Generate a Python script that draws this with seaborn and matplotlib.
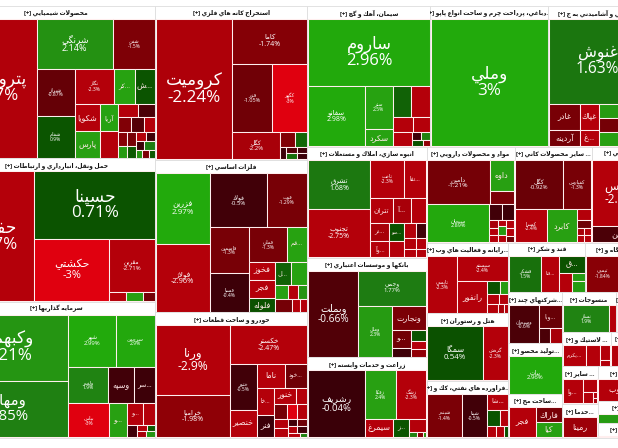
import unicodedata
import matplotlib
matplotlib.use("Agg")
import matplotlib.pyplot as plt
from matplotlib.colors import LinearSegmentedColormap
from matplotlib.patches import Rectangle
import seaborn as sns

def c(*k): return ["c", *k]
def r(*k): return ["r", *k]

# ---- data: (ticker, percent change, market value) ----
chem = c(("پتروشيمي",-2.27,12371), r(c(("شرنگي",2.14,3800),("شفن",-1.5,2100)),
    c(r(("شيراز",-0.87,1800),("شفام",0.9,1600)),
      r(c(("نگاز",-2.3,1400),("...كر",2.5,720),("...ش",0.8,720)),
        c(r(c(("شكويا",-2.4,680),("آريا",2.5,470)),c(("پارس",2.4,680),("",-2.5,470))),
          r(c(("",-2.4,250),("",-0.6,218)),c(("",-1.6,200),("",-0.7,210),("",-2.3,166)),
            c(r(("",-1.8,130),("",2.3,110)),r(("",-1.3,120),("",1.0,100)),
              r(c(("",-2.3,90),("",-0.5,80)),c(("",-0.4,70),("",1.8,90)),c(("",2.2,50),("",-1.5,60),("",1.0,50))))))))))
transport = c(("حفارس",-2.77,11008), r(("حسينا",0.71,8000),
    c(("حكشتي",-3,4500),r(("مقرين",-2.71,2400),c(("",-2.3,150),("",2.4,150),("",-1.2,100))))))
invest = c(r(("وكبهمن",2.21,7735),("ومهان",1.85,6664)),
    r(c(("شهر",2.99,2450),("سرچمن",2.9,2000)),
      c(("ولغدر",1.9,1400),("وسپه",-0.5,910),("...سر",-0.4,735)),
      c(("بپاس",-3,1360),("...و",2.4,580),
        r(c(("...و",-2.4,340),("",-2.3,260)),c(("",-0.5,120),r(c(("",-2.4,50),("",1.0,40)),c(("",-2.2,60),("",2.2,60))))))))
mining = c(("كروميت",-2.24,10400), r(("كاما",-1.74,3250),
    c(("فزر",-1.05,2650),("كگهر",-3,2300)),
    c(("كگل",-2.2,1250),r(c(("...س",-1.6,210),("",1.3,170)),c(("",-0.4,75),r(c(("",-0.7,70),("",-0.5,60)),c(("",1.5,70),("",-0.2,60))))))))
metals = c(r(("فزرين",2.97,3550),("فولاژ",-2.96,3400)),
    r(c(("فولاد",-0.5,2900),("فوت",-1.29,2000)),
      c(r(("فاسمين",-1.3,1670),("فسپا",-0.4,1400)),
        r(c(("فملي",-1.3,1250),("...قم",2.5,640)),
          c(r(("فخوز",-2.4,450),("فجر",-2.3,425),("فلوله",0.6,350)),
            r(c(("...ل",1.2,350),("",2.5,350)),
              c(("",2.4,170),("",-2.4,120),("",2.2,120)),
              r(c(("",-1.2,220),("",-2.4,90),("",-2.3,90)),)))))))
auto = c(r(("ورنا",-2.9,4900),("خراميا",-1.98,3000)),
    r(("خكستر",-2.47,2850),
      c(r(("ختور",-0.5,1200),("خنصير",-2.5,700)),
        r(c(("ناما",-2.3,650),("...خود",-1.0,510)),
          c(r(("...خا",-2.5,460),("فنر",-0.4,370)),
            r(c(("خنور",-2.4,320),("",-2.3,170)),c(("",-1.2,180),("",-3,140),("",-2.4,150)),
              c(r(("",-2.3,120),("",-2.4,120)),r(c(("",-0.5,70),("",-1.0,70)),c(("",-2.4,60),("",-0.5,70)),c(("",-2.3,50),("",1.9,30))))))))))
cement = r(("ساروم",2.96,7950), c(("سفانو",2.98,3360), r(("ستر",2.5,1190),("سكرد",2.5,490)),
    r(c(("",1.2,560),("",-2.4,560)),c(("",-2.4,290),("",-2.4,250)),
      c(("",-2.4,280),r(c(("",-0.4,70),("",1.9,70)),c(("",0.7,70),("",-2.0,50)))))))
leather = r(("وملي",3,14700),)
food = r(("غنوش",1.63,8036), c(r(("غادر",-1.3,780),("آردينه",-1.2,500)),r(("غپاك",-2.3,500),("...غ",-2.4,320)),
    r(("...غ",2.3,660),("",-1.2,660),("",2.4,654))))
construction = c(r(("تشرق",1.68,2900),("تجنوب",-2.75,2800)),
    r(c(("ثاخت",-2.3,1250),("...تفا",-2.4,780)),c(("تتران",-2.3,540),("...آ",-2.2,440),("",-2.4,360)),
      c(r(("...تر",-2.2,320),("...وآ",-2.5,300)),r(("...سو",0.7,240),("...سو",-2.4,220)),
        r(c(("",-2.4,170),("",-0.5,140)),c(("",-2.3,130),("",-2.4,110)),c(("",-2.4,90),("",-2.3,70))))))
banks = c(("وبملت",-0.66,4200), r(("وجمي",1.77,2350), c(("وملل",2.3,1650),
    r(("ونجارت",-1.4,780),c(r(("...و",-1.1,310),("",-0.4,170)),r(("",0.8,150),("",-2.3,120),("",-2.0,120)))))))
farming = c(("رشريف",-0.04,3700), r(c(("زفكا",2.4,1500),("زشگ",-2.3,1400)),
    c(("سيمرغ",-2.6,510),("...ز",0.9,290),r(("",-2.3,210),c(("",1.9,50),("",-1.8,30),("",2.2,20))))))
pharma = r(c(("دامين",-1.21,2650),r(("داوه",2.4,720),("",-1.4,310))),
    c(("سبحان",2.89,2250),r(c(("",-0.5,190),("",-0.4,170)),
      c(r(("",-2.2,65),("",-2.4,65),("",-2.3,60)),r(("",-2.4,50),("",2.3,65),("",-2.3,60)),r(("",-2.4,60),("",-2.3,60),("",-1.0,50))))))
minerals = r(c(("كگل",-0.92,2250),("كفپارس",-1.3,1300)),
    c(("كسرا",-2.4,1000),("كابرد",2.4,950),r(("",-2.4,150),("",-1.0,100),c(r(("",-2.2,50),("",-2.4,50)),r(("",-2.3,50),("",-2.4,50))))))
aux = r(("فارس",-2.8,3500),("امين",-0.6,900))
it = c(("تاپسي",-2.3,1650),r(("سيستم",-2.4,1200),c(("رانفور",-2.3,900),
    r(c(("",0.7,170),("",2.3,100)),c(("",-2.3,110),("",-2.4,90)),c(("",-2.4,90),("",-2.2,50),("",-2.3,30))))))
hotel = c(("سمگا",0.54,3000),("گردش",-2.3,1350))
oil = c(("شبندر",-1.4,1450),("شپنا",-0.5,1060),r(("...شا",-2.3,310),c(("",0.8,190),("",-2.3,130)),c(("",-2.3,100),("",-2.4,80),("",0.7,50))))
sugar = c(("قشكر",1.5,1100),("...قنا",-2.4,620),r(("...ق",0.7,420),c(("",-2.4,220),r(("",2.3,100),("",2.3,140)))))
machinery = c(("تپمپي",-1.84,1250),("",-1.2,1000))
multi = c(("وسبحان",-0.6,1060),r(("...وبا",-0.9,480),c(("",-0.6,170),("",-2.2,160))))
textile = c(("نساز",1.9,1200),("",-2.3,160))
other_a = r(("",-2.4,900),)
tolid = r(("بيات",2.96,1850),)
sakht = c(("فجر",-2.3,800),r(("فاراك",-1.3,380),("كيا",2.4,370)))
tire = c(("...يكرم",-2.4,510),("",-2.4,290),r(("",-2.4,150),("",-2.3,60)))
other_b = r(("",-2.3,800),)
sayer = c(("...وا",-2.3,500),r(("",-2.3,200),c(("",-2.3,120),r(("",-2.4,25),("",-2.2,25)))))
khadama = r(("رمينا",-2.1,720),)
tala = r(("...ي وب",-2.4,1000),)
jam = r(("",2.3,300),)
rade = r(("",2.3,100),)

# sectors: (title, tree, sector value)
market = c(
  r(("محصولات شيميايي",chem,31796),("حمل ونقل، انبارداري و ارتباطات",transport,29816),("سرمايه گذاريها",invest,28460)),
  r(("استخراج كانه هاي فلزي",mining,23408),("فلزات اساسي",metals,23180),("خودرو و ساخت قطعات",auto,19076)),
  r(c(("سيمان، آهك و گچ",cement,17343),("...دباغي، پرداخت چرم و ساخت انواع پاپو",leather,16638),("...غذايي و آشاميدني به ج",food,13889)),
    c(r(("انبوه سازي، املاك و مستغلات",construction,13150),("بانكها و موسسات اعتباري",banks,11900),("زراعت و خدمات وابسته",farming,9580)),
      r(c(("مواد و محصولات دارويي",pharma,8448),("... ساير محصولات كاني",minerals,7392),("...كمكي",aux,5328)),
        c(r(("...رايانه و فعاليت هاي وب",it,5781),("هتل و رستوران",hotel,5535),("...فراورده هاي نفتي، كك و",oil,4674)),
          r(c(("قند و شكر",sugar,3811),("...دستگاه و",machinery,3044)),
            c(r(("...شركتهاي چند",multi,2729),("...توليد محصو",tolid,2702),("...ساخت مج",sakht,2354)),
              r(c(("منسوجات",textile,2160),("...كاشي",other_a,1240)),
                c(("... لاستيك و",tire,1649),("...چوب",other_b,1241)),
                c(r(("... ساير",sayer,1350),("...خدما",khadama,1224)),
                  r(("...طلا",tala,1715),("...مج",jam,1054),("...رده",rade,735)))))))))))

# ---- styles, kept apart from the data ----
FONT_PX = {"پتروشيمي":17,"حفارس":17,"وكبهمن":17,"ومهان":15,"كروميت":17,"ساروم":16.5,"وملي":17,"غنوش":15.5,
    "حسينا":17,"ورنا":12,"حكشتي":11,"شرنگي":9,"وبملت":10,"رشريف":9.5,"فارس":11.7,"سمگا":8,
    "فزرين":8,"فولاژ":7.5,"سفانو":7,"تشرق":7,"تجنوب":7,"خكستر":7,"خراميا":7,"كاما":7,
    "دامين":6.5,"فولاد":6,"شهر":6,"كگل":6,"بيات":6,"مقرين":6,"سبحان":5.5,"فزر":5.5,"وجمي":6}
HEADER_PT = 4.3
HEADER_PX = 13.0
FRAME = (-53.0, 647.0, 6.0, 438.0)
TITLE_LEFT = -43.0
FAMILY = ["Open Sans", "DejaVu Sans"]

reds = LinearSegmentedColormap.from_list("reds", [(0,"#3a0008"),(0.2,"#3e0008"),(0.42,"#6e0006"),(0.65,"#7e0006"),(0.85,"#8c0006"),(1,"#b4000a")])
greens = LinearSegmentedColormap.from_list("greens", [(0,"#0a4a00"),(0.3,"#0b5500"),(0.6,"#1e7d12"),(0.8,"#28a012"),(1,"#22aa0c")])

def colour(p):
    if p <= -3: return "#e0000f"
    if p < 0: return reds(min(-p/2.3, 1.0))
    return greens(min(p/3, 1.0))

def shape(text):
    NONJOIN = set("اآأإدذرزژوؤة")
    def is_letter(ch): return "ARABIC LETTER" in unicodedata.name(ch, "")
    out, i = [], 0
    while i < len(text):
        ch = text[i]
        if not is_letter(ch):
            out.append(ch); i += 1; continue
        prev = text[i-1] if i else " "
        nxt = text[i+1] if i+1 < len(text) else " "
        pj = is_letter(prev) and prev not in NONJOIN
        if ch == "ل" and nxt == "ا":
            out.append("\ufefc" if pj else "\ufefb"); i += 2; continue
        nj = is_letter(nxt) and ch not in NONJOIN
        form = "MEDIAL" if pj and nj else "FINAL" if pj else "INITIAL" if nj else "ISOLATED"
        try:
            out.append(unicodedata.lookup(f"{unicodedata.name(ch)} {form} FORM"))
        except KeyError:
            out.append(ch)
        i += 1
    return "".join(out)[::-1]

sns.set_theme(style="white")
plt.rcParams["font.family"] = FAMILY
fig = plt.figure(figsize=(6.18, 4.48), dpi=100)
ax = fig.add_axes([0, 0, 1, 1])
ax.set_xlim(0, 618); ax.set_ylim(448, 0); ax.axis("off")
PX = 0.72

def weight(n):
    return sum(weight(k) for k in n[1:]) if isinstance(n, list) else n[2]

def split(node, x0, x1, y0, y1, emit):
    if not isinstance(node, list):
        emit(node, x0, x1, y0, y1); return
    total = weight(node)
    pos = x0 if node[0] == "c" else y0
    for k in node[1:]:
        f = weight(k) / total
        if node[0] == "c":
            split(k, pos, pos + f*(x1-x0), y0, y1, emit); pos += f*(x1-x0)
        else:
            split(k, x0, x1, pos, pos + f*(y1-y0), emit); pos += f*(y1-y0)

def draw_leaf(leaf, x0, x1, y0, y1):
    name, pct, _ = leaf
    ax.add_patch(Rectangle((x0, y0), x1-x0, y1-y0, fc=colour(pct), ec="#ffeeee", lw=0.75))
    w, h = x1-x0, y1-y0
    area = w*h
    if not name or area < 250: return
    cx, cy = (x0+x1)/2, (y0+y1)/2
    if area >= 1040:
        px = FONT_PX.get(name, 5.0)
        ax.text(cx, cy, shape(name)+"\n"+f"{pct:g}%", color="white", fontsize=px*PX, ha="center", va="center", linespacing=1.0, clip_on=True)
    else:
        px = min(8.0, 1.6*w/max(len(name), 1))
        ax.text(cx, cy, shape(name), color="#ffe8e8", fontsize=px*PX, ha="center", va="center", clip_on=True)

def draw_sector(sec, x0, x1, y0, y1):
    title, tree, _ = sec
    box = Rectangle((x0, y0), x1-x0, y1-y0, fc="white", ec="#dddddd", lw=0.6)
    ax.add_patch(box)
    head = min(HEADER_PX, y1-y0-1.5)
    t = ax.text((max(x0, TITLE_LEFT)+x1)/2, y0+head/2+0.5, "[+] "+shape(title), color="#111111", fontsize=HEADER_PT, fontweight="bold",
            ha="center", va="center", clip_on=True)
    t.set_clip_path(box)
    split(tree, x0+0.5, x1-0.5, y0+head, y1-0.5, draw_leaf)

split(market, *FRAME, draw_sector)
fig.savefig("out.png", dpi=100, facecolor="white")
